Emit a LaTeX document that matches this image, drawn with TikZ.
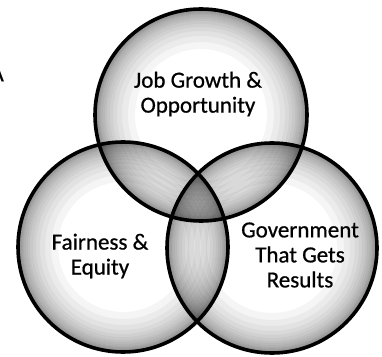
\documentclass[tikz,border=0pt]{standalone}
\usepackage{fontspec}
\setmainfont{Carlito}
\newfontfamily\vennfont{Carlito}[FakeBold=0.7]
\usepackage{tikz}
\usetikzlibrary{positioning}

\begin{document}
\begin{tikzpicture}[x=1pt, y=1pt,
    ring/.style={draw=black, line width=3.6pt},
    rimshade/.style={fill=black, opacity=0.04, even odd rule},
    venntext/.style={font=\vennfont\fontsize{23}{25}\selectfont, align=center, inner sep=0pt}]
    \useasboundingbox (0, 0) rectangle (382, 356);

    \coordinate (job) at (201, 241);
    \coordinate (fair) at (123, 109);
    \coordinate (gov) at (272, 108);

    % stippled rims, darker where they overlap
    \foreach \d in {2, 3, 4, 5, 6, 8, 10, 12, 15, 18, 22, 27, 33, 40} {
      \fill [rimshade] (job) circle (106) (job) circle (106 - \d);
      \fill [rimshade] (fair) circle (105) (fair) circle (105 - \d);
      \fill [rimshade] (gov) circle (105) (gov) circle (105 - \d);
    }

    \draw [ring] (job) circle (106);
    \draw [ring] (fair) circle (105);
    \draw [ring] (gov) circle (105);

    \node [venntext] (jobtext) at (198, 262) {Job Growth \&\\Opportunity};
    \node [venntext] (fairtext) at (100, 100) {Fairness \&\\Equity};
    \node [venntext] (govtext) at (300, 101) {Government\\That Gets\\Results};

    % cut-off letter at the left border
    \node [venntext, anchor=east] (stray) at (4, 282) {A};
\end{tikzpicture}
\end{document}
